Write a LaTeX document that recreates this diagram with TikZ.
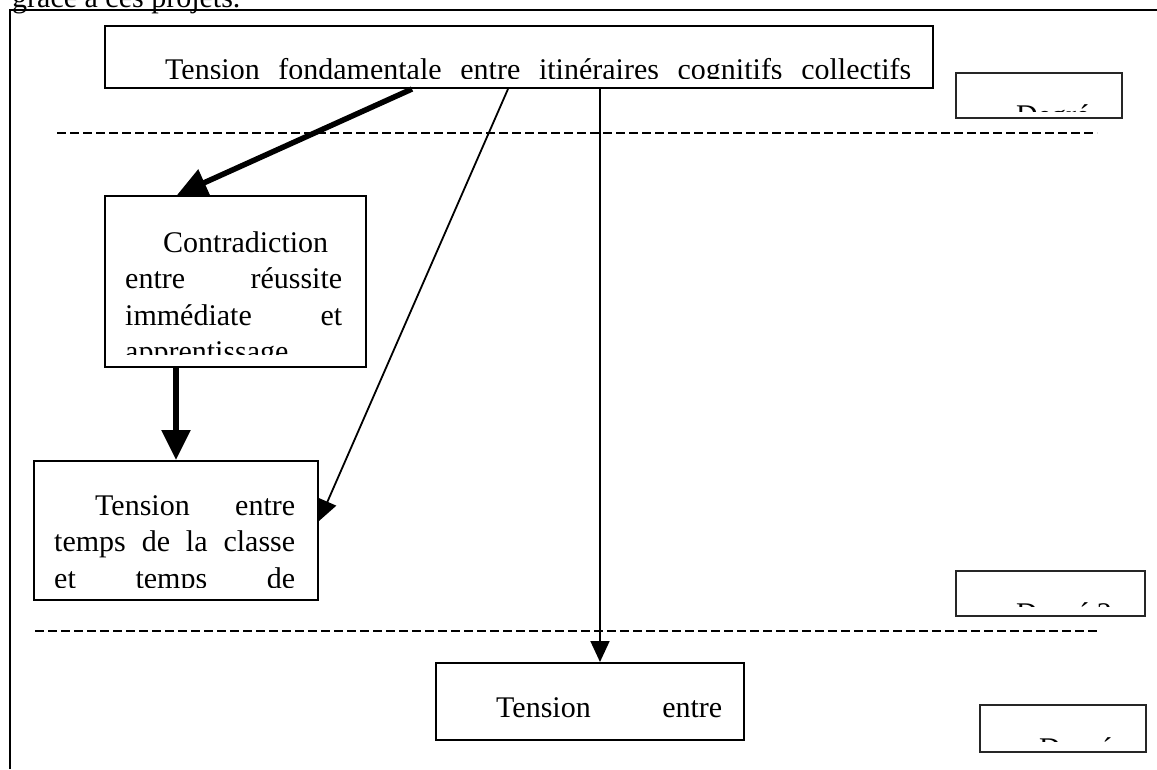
\documentclass[tikz,border=0pt]{standalone}
\usepackage{fontspec}
\setmainfont{Liberation Serif}
\usetikzlibrary{arrows.meta}
\begin{document}
\hyphenpenalty=10000 \exhyphenpenalty=10000 \tolerance=10000
\begin{tikzpicture}[x=1pt,y=-1pt,
  box/.style={draw=black, line width=2pt, anchor=north west, inner sep=0pt},
  degbox/.style={draw=black!85, line width=1.5pt, anchor=north west, inner sep=0pt},
  para/.style={anchor=base west, inner sep=0pt, align=justify, font=\fontsize{30}{36.5}\selectfont},
  plain/.style={anchor=base west, inner sep=0pt, font=\fontsize{30}{36.5}\selectfont},
  heavyarrow/.style={line width=5.5pt, -{Triangle[length=30pt,width=28pt]}},
  lightarrow/.style={line width=1.8pt, -{Triangle[length=21pt,width=19pt]}},
  levelsep/.style={line width=1.5pt, dash pattern=on 9pt off 4pt}]
\useasboundingbox (0,0) rectangle (1157,769);
% page text and frame
\node[plain] (intro) at (12,7) {grâce à ces projets.};
\draw[line width=2pt] (10,769) -- (10,10) -- (1157,10);
% level separators
\draw[levelsep] (57,133) -- (1097,133);
\draw[levelsep] (35,631) -- (1097,631);
% boxes
\node[box, minimum width=828pt, minimum height=62pt] (top) at (104,25) {};
\node[degbox, minimum width=166pt, minimum height=45pt] (deg1) at (955,72) {};
\node[box, minimum width=261pt, minimum height=171pt] (contra) at (104,195) {};
\node[box, minimum width=284pt, minimum height=139pt] (temps) at (33,460) {};
\node[degbox, minimum width=189pt, minimum height=45pt] (deg2) at (955,570) {};
\node[box, minimum width=308pt, minimum height=77pt] (bottom) at (435,662) {};
\node[degbox, minimum width=166pt, minimum height=47pt] (deg3) at (979,704) {};
% clipped texts
\begin{scope}
  \clip (104,25) rectangle (932,78);
  \node[para, text width=786pt] (toptext) at (125,79) {\hspace*{40pt}Tension fondamentale entre itinéraires cognitifs collectifs\linebreak\mbox{}};
\end{scope}
\begin{scope}
  \clip (955,72) rectangle (1121,111);
  \node[para, text width=124pt] (deg1text) at (976,125) {\hspace*{40pt}Degré 1};
\end{scope}
\begin{scope}
  \clip (104,195) rectangle (365,354);
  \node[para, text width=217pt] (contratext) at (125,252) {\hspace*{38pt}Contradiction\linebreak entre réussite\linebreak immédiate et\linebreak apprentissage};
\end{scope}
\begin{scope}
  \clip (33,460) rectangle (317,587);
  \node[para, text width=241pt] (tempstext) at (54,515) {\hspace*{41pt}Tension entre\linebreak temps de la classe\linebreak et temps de\linebreak\mbox{}};
\end{scope}
\begin{scope}
  \clip (955,570) rectangle (1144,606);
  \node[para, text width=147pt] (deg2text) at (976,623) {\hspace*{40pt}Degré 2};
\end{scope}
\begin{scope}
  \clip (435,662) rectangle (743,737);
  \node[para, text width=266pt] (bottomtext) at (456,717) {\hspace*{40pt}Tension entre\linebreak\mbox{}};
\end{scope}
\begin{scope}
  \clip (979,704) rectangle (1145,741);
  \node[para, text width=125pt] (deg3text) at (999,758) {\hspace*{40pt}Degré 3};
\end{scope}
% connectors
\draw[heavyarrow] (top.south -| 412,0) -- (contra.north -| 177,0);
\draw[heavyarrow] (contra.south -| 176,0) -- (temps.north -| 176,0);
\draw[lightarrow] (top.south -| 508,0) -- (temps.east |- 0,521);
\draw[lightarrow] (top.south -| 600,0) -- (bottom.north -| 600,0);
\end{tikzpicture}
\end{document}
